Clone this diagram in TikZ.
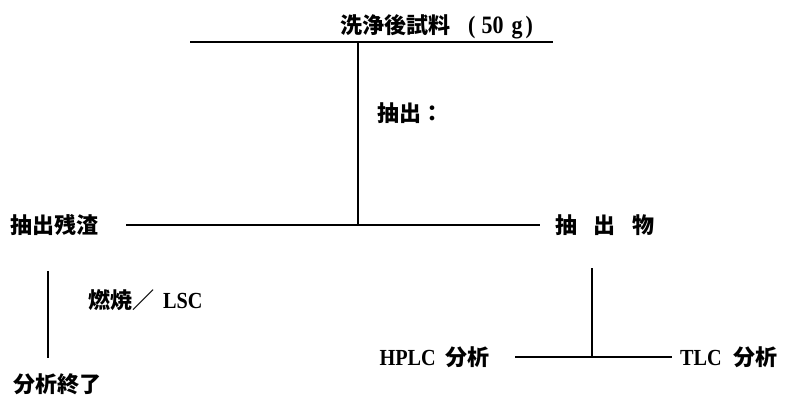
\documentclass[tikz,border=0pt]{standalone}
\usepackage{fontspec}
\setmainfont{Liberation Serif}
\newfontfamily\cjk{Noto Sans CJK JP}
\newfontfamily\latf[FakeStretch=0.88]{Liberation Serif}
\usetikzlibrary{positioning}
\newcommand\lat[1]{{\fontsize{23}{27}\selectfont\latf #1}}

\begin{document}
\begin{tikzpicture}[
    x=1pt, y=-1pt,
    label/.style={inner sep=0pt, font=\fontsize{22}{26}\selectfont\cjk\bfseries},
    flow/.style={line width=2pt, color=black}
]
    \useasboundingbox (0,0) rectangle (785,396);

    % --- Nodes ---
    \node[label, anchor=west] (sample) at (340,27) {洗浄後試料\hspace{18pt}{\fontsize{25}{28}\selectfont\latf (\hspace{6pt}50\hspace{8pt}g\hspace{3pt})}};
    \coordinate (top-left) at (190,42);
    \coordinate (top-right) at (553,42);
    \coordinate (split) at (358,225);

    \node[label, anchor=west] (extraction) at (377,113) {抽出：};

    \node[label, anchor=west] (residue) at (10,225) {抽出残渣};
    \node[label, anchor=west] (extract) at (555,225) {抽\hspace{0.75em}出\hspace{0.75em}物};

    \node[label, anchor=west] (combustion) at (88,300) {燃焼／\hspace{9pt}\lat{LSC}};
    \node[label, anchor=west] (finish) at (13,384) {分析終了};

    \coordinate (hub) at (592,357);
    \node[label, anchor=east] (hplc) at (490,357) {\lat{HPLC}\hspace{10pt}分析};
    \node[label, anchor=west] (tlc) at (680,357) {\lat{TLC}\hspace{12pt}分析};

    % --- Connections ---
    \draw[flow] (top-left) -- (top-right);
    \draw[flow] (top-left -| split) -- (split);
    \draw[flow, shorten <=28pt, shorten >=15pt] (residue) -- (extract);

    % Residue branch
    \draw[flow] ([xshift=-6pt, yshift=-35pt]residue.south) -- ([xshift=-6pt]residue.south |- 0,358);

    % Extract branch
    \draw[flow] (hub |- 0,268) -- (hub);
    \draw[flow, shorten <=25pt, shorten >=8pt] (hplc) -- (tlc);
\end{tikzpicture}
\end{document}
